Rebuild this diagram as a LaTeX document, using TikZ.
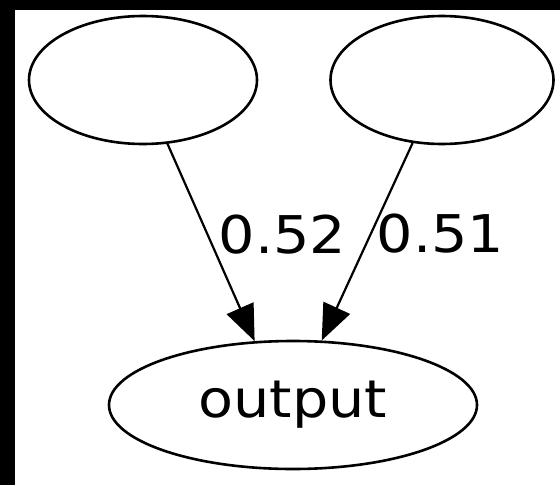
\documentclass[tikz,border=0pt]{standalone}
\usepackage{fontspec}
\setmainfont[FakeStretch=1.1]{DejaVu Sans}
\usetikzlibrary{shapes.geometric,arrows.meta}
\begin{document}
\begin{tikzpicture}[x=1pt,y=-1pt,>={Triangle[length=36pt,width=29pt]},
  every node/.style={font=\fontsize{52}{62}\selectfont},
  neuron/.style={draw,ellipse,line width=2.6pt,inner sep=0pt,minimum height=128pt},
  weight/.style={inner sep=0pt}]
% frame
\fill[black] (0,0) rectangle (560,485);
\fill[white] (15,10) rectangle (560,485);
% layer
\node[neuron,minimum width=228pt] (in1) at (143,80) {};
\node[neuron,minimum width=223pt] (in2) at (442,80) {};
\node[neuron,minimum width=368pt] (out) at (293,405) {output};
% weighted links
\draw[->,line width=2.2pt] (in1.-69)--(out.121) node[weight,pos=.46,right=10pt]{0.52};
\draw[->,line width=2.2pt] (in2.-115)--(out.66) node[weight,pos=.46,right=5pt]{0.51};
\end{tikzpicture}
\end{document}
